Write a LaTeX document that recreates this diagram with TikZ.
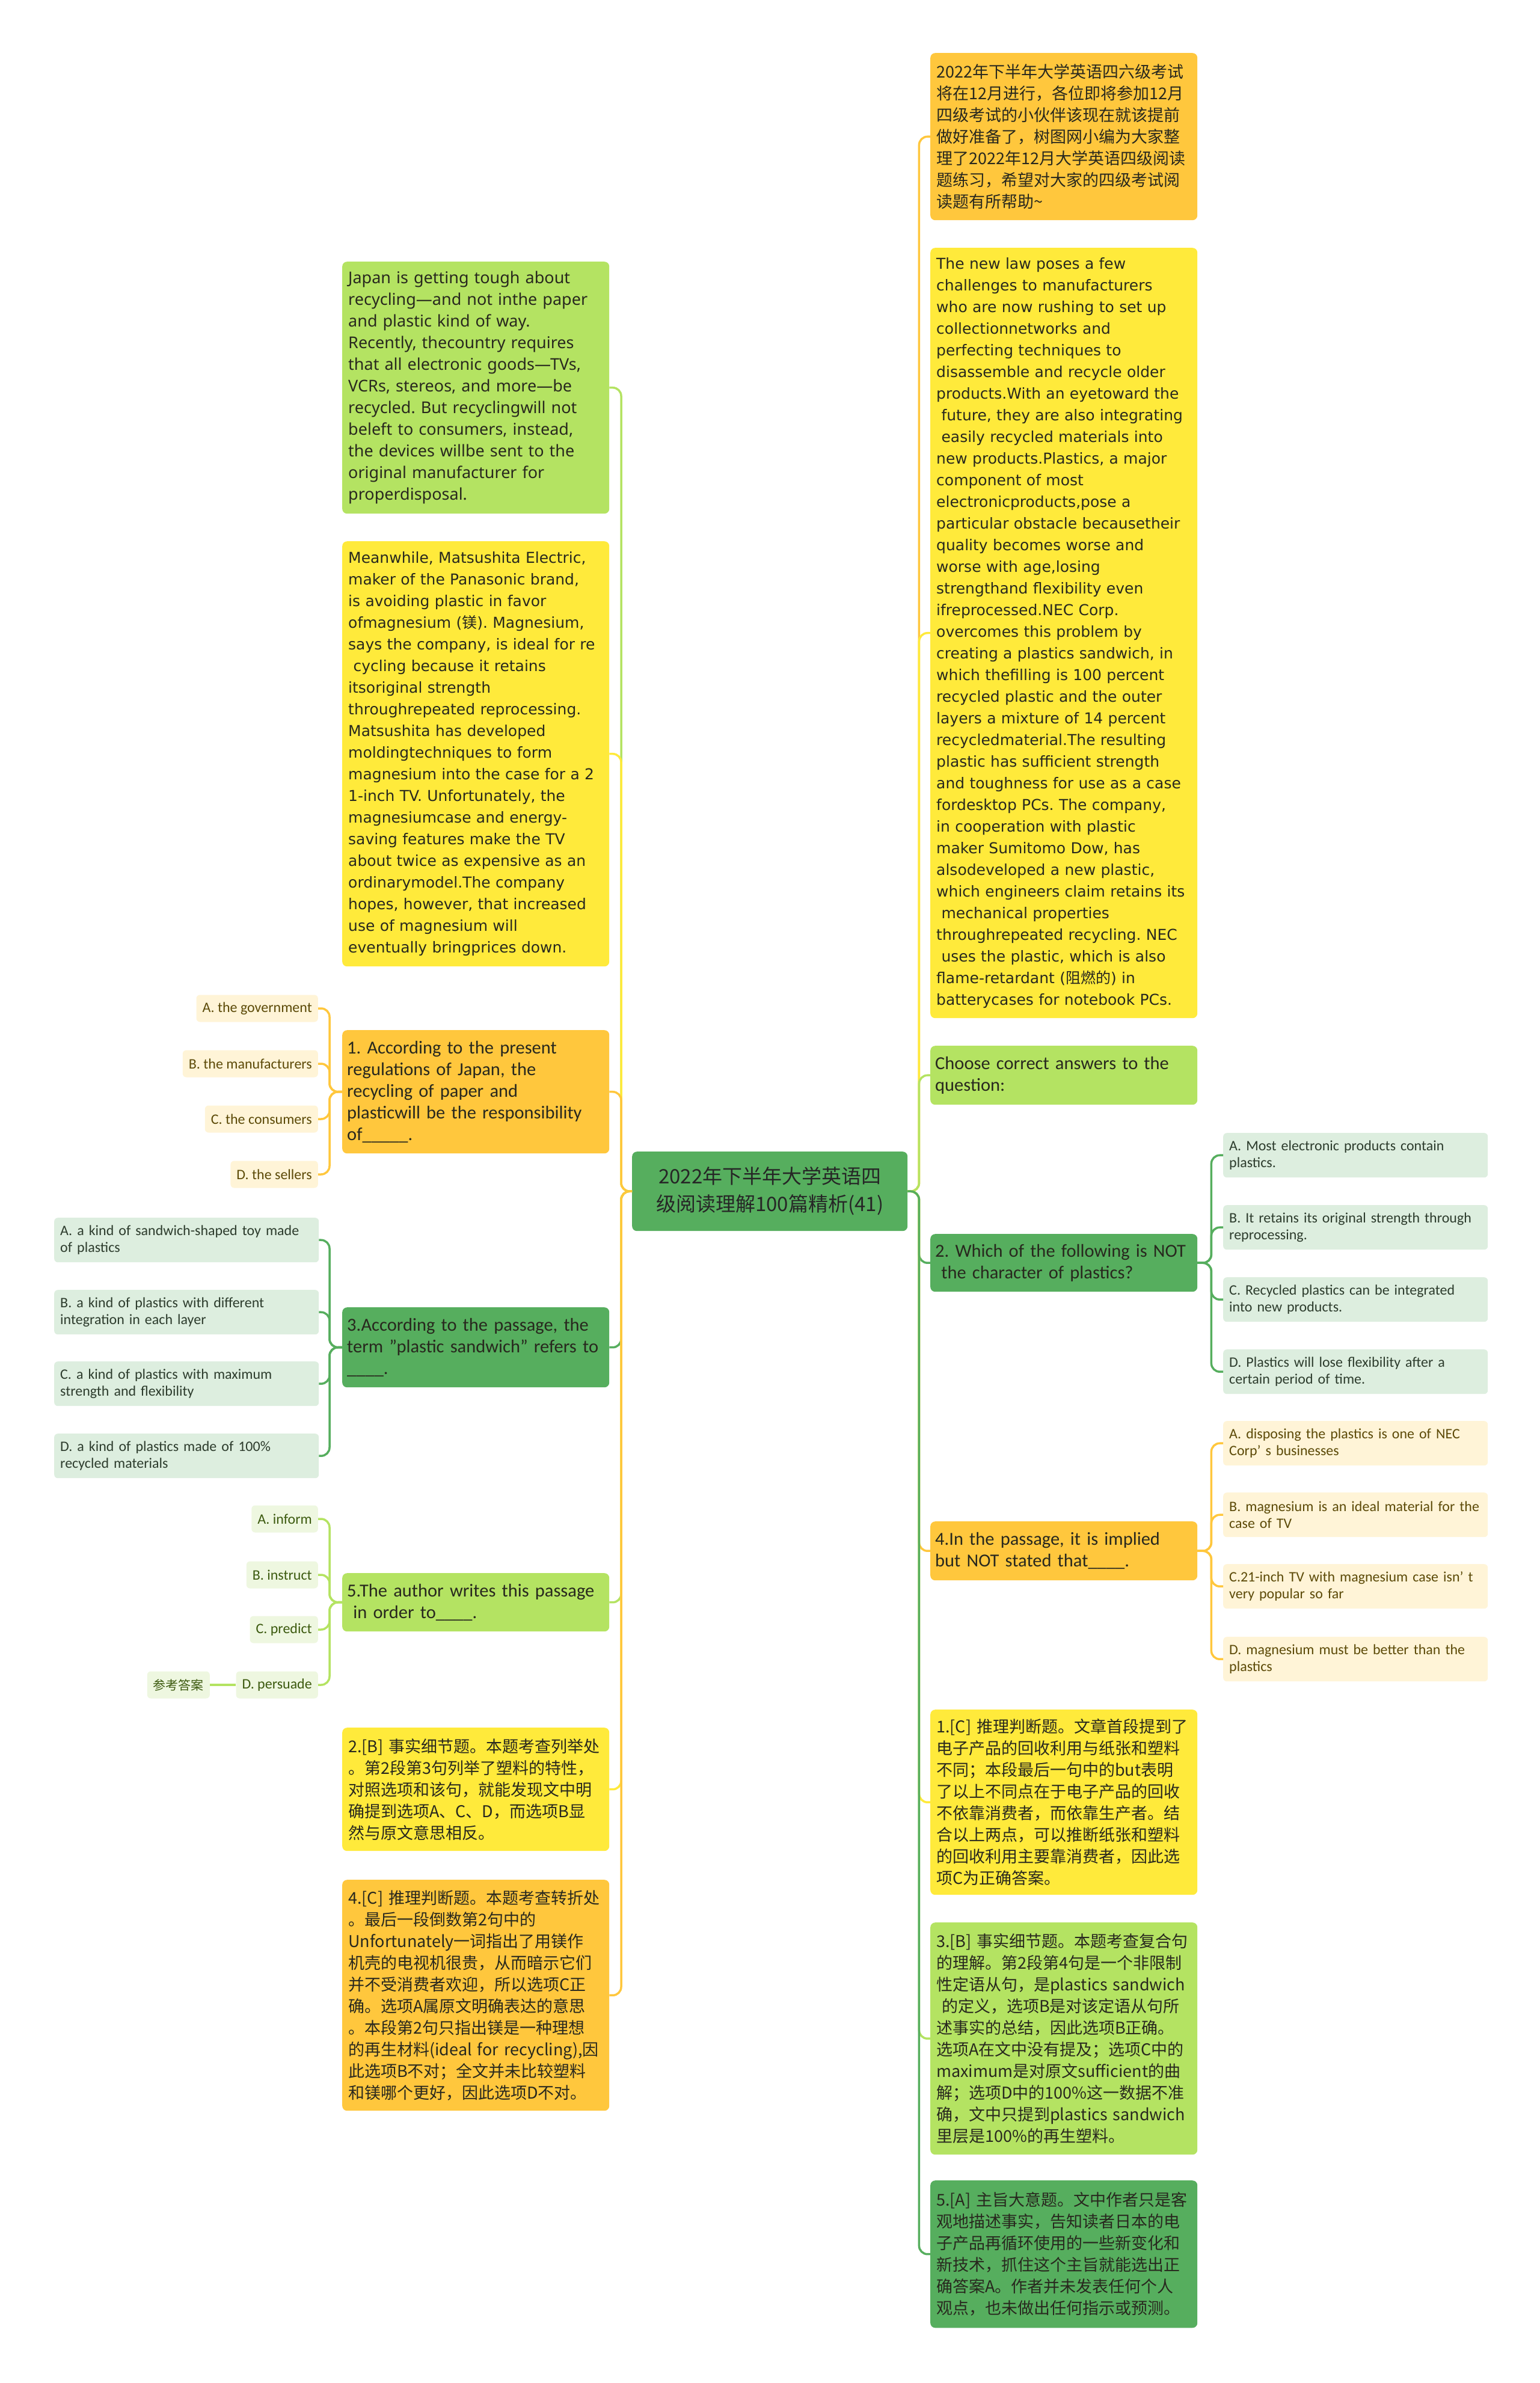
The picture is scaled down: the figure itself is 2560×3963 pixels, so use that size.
\documentclass[tikz,border=0pt]{standalone}
\usepackage{fontspec}
\setmainfont{Carlito}
\newfontfamily\cjkfont{Noto Sans CJK SC}
\newfontfamily\widefont{DejaVu Sans}
\newfontfamily\notofont{Noto Sans}

\definecolor{cOrange}{RGB}{255,199,61}
\definecolor{cYellow}{RGB}{255,234,59}
\definecolor{cLime}{RGB}{180,227,98}
\definecolor{cGreen}{RGB}{86,174,94}
\definecolor{oCream}{RGB}{255,244,215}
\definecolor{oMint}{RGB}{221,238,223}
\definecolor{oPale}{RGB}{238,247,224}
\definecolor{ink}{RGB}{40,40,30}
\definecolor{tOlive}{RGB}{92,74,8}
\definecolor{tDark}{RGB}{45,60,45}
\definecolor{tMoss}{RGB}{60,90,15}

\tikzset{
  mainbox/.style={rounded corners=8pt, anchor=north west, align=left, text=ink,
    inner xsep=10pt, inner ysep=6pt, text width=424pt},
  zhtext/.style={font=\cjkfont\fontsize{27}{36}\selectfont},
  widetext/.style={font=\widefont\fontsize{25}{36}\selectfont},
  entext/.style={font=\notofont\fontsize{27}{36}\selectfont},
  qtext/.style={font=\fontsize{30.5}{36}\selectfont, inner xsep=8pt, text width=428pt},
  optbox/.style={rounded corners=6pt, align=left, inner xsep=10pt, inner ysep=4pt,
    font=\fontsize{24}{28}\selectfont},
  optwide/.style={optbox, anchor=north west, text width=420pt, minimum height=74pt},
  optshort/.style={optbox, anchor=east, minimum height=45pt},
  link/.style={draw=#1, line width=3.5pt, rounded corners=14pt},
}

\begin{document}
\frenchspacing
\begin{tikzpicture}[x=1pt,y=-1pt]
\fill[white] (0,0) rectangle (2560,3963);
\useasboundingbox (0,0) rectangle (2560,3963);

\node[rounded corners=8pt, fill=cGreen, anchor=north west, minimum width=458pt,
  minimum height=132pt, align=center, text=black!85,
  font=\cjkfont\fontsize{33}{46}\selectfont] (ctr) at (1051,1915)
  {2022年下半年大学英语四\\级阅读理解100篇精析(41)};

% right branches
\node[mainbox, zhtext, fill=cOrange, minimum height=278pt] (intro) at (1547,88)
  {2022年下半年大学英语四六级考试\\将在12月进行，各位即将参加12月\\四级考试的小伙伴该现在就该提前\\做好准备了，树图网小编为大家整\\理了2022年12月大学英语四级阅读\\题练习，希望对大家的四级考试阅\\读题有所帮助\textasciitilde};
\node[mainbox, widetext, fill=cYellow, minimum height=1281pt] (passage) at (1547,412)
  {The new law poses a few\\
   challenges to manufacturers\\
   who are now rushing to set up\\
   collectionnetworks and\\
   perfecting techniques to\\
   disassemble and recycle older\\
   products.With an eyetoward the\\
   \ future, they are also integrating\\
   \ easily recycled materials into\\
   new products.Plastics, a major\\
   component of most\\
   electronicproducts,pose a\\
   particular obstacle becausetheir\\
   quality becomes worse and\\
   worse with age,losing\\
   strengthand flexibility even\\
   ifreprocessed.NEC Corp.\\
   overcomes this problem by\\
   creating a plastics sandwich, in\\
   which thefilling is 100 percent\\
   recycled plastic and the outer\\
   layers a mixture of 14 percent\\
   recycledmaterial.The resulting\\
   plastic has sufficient strength\\
   and toughness for use as a case\\
   fordesktop PCs. The company,\\
   in cooperation with plastic\\
   maker Sumitomo Dow, has\\
   alsodeveloped a new plastic,\\
   which engineers claim retains its\\
   \ mechanical properties\\
   throughrepeated recycling. NEC\\
   \ uses the plastic, which is also\\
   flame-retardant ({\cjkfont 阻燃的}) in\\
   batterycases for notebook PCs.};
\node[mainbox, qtext, fill=cLime, minimum height=98pt] (choose) at (1547,1739)
  {Choose correct answers to the\\question:};
\node[mainbox, qtext, fill=cGreen, minimum height=96pt] (q2) at (1547,2052)
  {2. Which of the following is NOT\\\ the character of plastics?};
\node[mainbox, qtext, fill=cOrange, minimum height=98pt] (q4) at (1547,2530)
  {4.In the passage, it is implied\\but NOT stated that\_\_\_\_.};
\node[mainbox, zhtext, fill=cYellow, minimum height=308pt] (key1) at (1547,2843)
  {1.[C]~推理判断题。文章首段提到了\\电子产品的回收利用与纸张和塑料\\不同；本段最后一句中的but表明\\了以上不同点在于电子产品的回收\\不依靠消费者，而依靠生产者。结\\合以上两点，可以推断纸张和塑料\\的回收利用主要靠消费者，因此选\\项C为正确答案。};
\node[mainbox, zhtext, fill=cLime, minimum height=386pt] (key3) at (1547,3197)
  {3.[B]~事实细节题。本题考查复合句\\的理解。第2段第4句是一个非限制\\性定语从句，是plastics~sandwich\\\ 的定义，选项B是对该定语从句所\\述事实的总结，因此选项B正确。\\选项A在文中没有提及；选项C中的\\maximum是对原文sufficient的曲\\解；选项D中的100\%这一数据不准\\确，文中只提到plastics~sandwich\\里层是100\%的再生塑料。};
\node[mainbox, zhtext, fill=cGreen, minimum height=245pt] (key5) at (1547,3626)
  {5.[A]~主旨大意题。文中作者只是客\\观地描述事实，告知读者日本的电\\子产品再循环使用的一些新变化和\\新技术，抓住这个主旨就能选出正\\确答案A。作者并未发表任何个人\\观点，也未做出任何指示或预测。};

% left branches
\node[mainbox, entext, fill=cLime, minimum height=419pt] (japan) at (569,435)
  {Japan is getting tough about\\recycling—and not inthe paper\\and plastic kind of way.\\Recently, thecountry requires\\that all electronic goods—TVs,\\VCRs, stereos, and more—be\\recycled. But recyclingwill not\\beleft to consumers, instead,\\the devices willbe sent to the\\original manufacturer for\\properdisposal.};
\node[mainbox, widetext, fill=cYellow, minimum height=707pt] (matsu) at (569,900)
  {Meanwhile, Matsushita Electric,\\
   maker of the Panasonic brand,\\
   is avoiding plastic in favor\\
   ofmagnesium ({\cjkfont 镁}). Magnesium,\\
   says the company, is ideal for re\\
   \ cycling because it retains\\
   itsoriginal strength\\
   throughrepeated reprocessing.\\
   Matsushita has developed\\
   moldingtechniques to form\\
   magnesium into the case for a 2\\
   1-inch TV. Unfortunately, the\\
   magnesiumcase and energy-\\
   saving features make the TV\\
   about twice as expensive as an\\
   ordinarymodel.The company\\
   hopes, however, that increased\\
   use of magnesium will\\
   eventually bringprices down.};
\node[mainbox, qtext, fill=cOrange, minimum height=205pt] (q1) at (569,1713)
  {1. According to the present\\regulations of Japan, the\\recycling of paper and\\plasticwill be the responsibility\\of\_\_\_\_\_.};
\node[mainbox, qtext, fill=cGreen, minimum height=133pt] (q3) at (569,2174)
  {3.According to the passage, the\\term "plastic sandwich" refers to\\\_\_\_\_.};
\node[mainbox, qtext, fill=cLime, minimum height=97pt] (q5) at (569,2616)
  {5.The author writes this passage\\\ in order to\_\_\_\_.};
\node[mainbox, zhtext, fill=cYellow, minimum height=205pt] (key2) at (569,2873)
  {2.[B]~事实细节题。本题考查列举处\\。第2段第3句列举了塑料的特性，\\对照选项和该句，就能发现文中明\\确提到选项A、C、D，而选项B显\\然与原文意思相反。};
\node[mainbox, zhtext, fill=cOrange, minimum height=384pt] (key4) at (569,3126)
  {4.[C]~推理判断题。本题考查转折处\\。最后一段倒数第2句中的\\Unfortunately一词指出了用镁作\\机壳的电视机很贵，从而暗示它们\\并不受消费者欢迎，所以选项C正\\确。选项A属原文明确表达的意思\\。本段第2句只指出镁是一种理想\\的再生材料(ideal~for~recycling),因\\此选项B不对；全文并未比较塑料\\和镁哪个更好，因此选项D不对。};

% options
\node[optshort, fill=oCream, text=tOlive] (q1a) at (529,1677) {A. the government};
\node[optshort, fill=oCream, text=tOlive] (q1b) at (529,1769) {B. the manufacturers};
\node[optshort, fill=oCream, text=tOlive] (q1c) at (529,1861) {C. the consumers};
\node[optshort, fill=oCream, text=tOlive] (q1d) at (529,1953) {D. the sellers};

\node[optwide, fill=oMint, text=tDark] (q3a) at (90,2025) {A. a kind of sandwich-shaped toy made\\of plastics};
\node[optwide, fill=oMint, text=tDark] (q3b) at (90,2145) {B. a kind of plastics with different\\integration in each layer};
\node[optwide, fill=oMint, text=tDark] (q3c) at (90,2264) {C. a kind of plastics with maximum\\strength and flexibility};
\node[optwide, fill=oMint, text=tDark] (q3d) at (90,2384) {D. a kind of plastics made of 100\%\\recycled materials};

\node[optshort, fill=oPale, text=tMoss] (q5a) at (529,2526) {A. inform};
\node[optshort, fill=oPale, text=tMoss] (q5b) at (529,2619) {B. instruct};
\node[optshort, fill=oPale, text=tMoss] (q5c) at (529,2710) {C. predict};
\node[optshort, fill=oPale, text=tMoss] (q5d) at (529,2802) {D. persuade};
\node[optshort, fill=oPale, text=tMoss, font=\cjkfont\fontsize{21}{28}\selectfont] (ref) at (349,2802) {参考答案};

\node[optwide, fill=oMint, text=tDark] (q2a) at (2034,1884) {A. Most electronic products contain\\plastics.};
\node[optwide, fill=oMint, text=tDark] (q2b) at (2034,2004) {B. It retains its original strength through\\reprocessing.};
\node[optwide, fill=oMint, text=tDark] (q2c) at (2034,2124) {C. Recycled plastics can be integrated\\into new products.};
\node[optwide, fill=oMint, text=tDark] (q2d) at (2034,2244) {D. Plastics will lose flexibility after a\\certain period of time.};

\node[optwide, fill=oCream, text=tOlive] (q4a) at (2034,2363) {A. disposing the plastics is one of NEC\\Corp’ s businesses};
\node[optwide, fill=oCream, text=tOlive] (q4b) at (2034,2482) {B. magnesium is an ideal material for~the\\case of TV};
\node[optwide, fill=oCream, text=tOlive] (q4c) at (2034,2601) {C.21-inch TV with magnesium case isn’~t\\very popular so far};
\node[optwide, fill=oCream, text=tOlive] (q4d) at (2034,2722) {D. magnesium must be better than the\\plastics};

% connectors
\draw[link=cOrange] (ctr.east) -- ++(19,0) |- (intro.west);
\draw[link=cYellow] (ctr.east) -- ++(19,0) |- (passage.west);
\draw[link=cLime] (ctr.east) -- ++(19,0) |- (choose.west);
\draw[link=cGreen] (ctr.east) -- ++(19,0) |- (q2.west);
\draw[link=cOrange] (ctr.east) -- ++(19,0) |- (q4.west);
\draw[link=cYellow] (ctr.east) -- ++(19,0) |- (key1.west);
\draw[link=cLime] (ctr.east) -- ++(19,0) |- (key3.west);
\draw[link=cGreen] (ctr.east) -- ++(19,0) |- (key5.west);

\draw[link=cLime] (ctr.west) -- ++(-18,0) |- (japan.east);
\draw[link=cYellow] (ctr.west) -- ++(-18,0) |- (matsu.east);
\draw[link=cOrange] (ctr.west) -- ++(-18,0) |- (q1.east);
\draw[link=cGreen] (ctr.west) -- ++(-18,0) |- (q3.east);
\draw[link=cLime] (ctr.west) -- ++(-18,0) |- (q5.east);
\draw[link=cYellow] (ctr.west) -- ++(-18,0) |- (key2.east);
\draw[link=cOrange] (ctr.west) -- ++(-18,0) |- (key4.east);

\draw[link=cOrange] (q1.west) -- ++(-21,0) |- (q1a.east);
\draw[link=cOrange] (q1.west) -- ++(-21,0) |- (q1b.east);
\draw[link=cOrange] (q1.west) -- ++(-21,0) |- (q1c.east);
\draw[link=cOrange] (q1.west) -- ++(-21,0) |- (q1d.east);

\draw[link=cGreen] (q3.west) -- ++(-21,0) |- (q3a.east);
\draw[link=cGreen] (q3.west) -- ++(-21,0) |- (q3b.east);
\draw[link=cGreen] (q3.west) -- ++(-21,0) |- (q3c.east);
\draw[link=cGreen] (q3.west) -- ++(-21,0) |- (q3d.east);

\draw[link=cLime] (q5.west) -- ++(-21,0) |- (q5a.east);
\draw[link=cLime] (q5.west) -- ++(-21,0) |- (q5b.east);
\draw[link=cLime] (q5.west) -- ++(-21,0) |- (q5c.east);
\draw[link=cLime] (q5.west) -- ++(-21,0) |- (q5d.east);
\draw[link=cLime] (q5d.west) -- (ref.east);

\draw[link=cGreen] (q2.east) -- ++(23,0) |- (q2a.west);
\draw[link=cGreen] (q2.east) -- ++(23,0) |- (q2b.west);
\draw[link=cGreen] (q2.east) -- ++(23,0) |- (q2c.west);
\draw[link=cGreen] (q2.east) -- ++(23,0) |- (q2d.west);

\draw[link=cOrange] (q4.east) -- ++(23,0) |- (q4a.west);
\draw[link=cOrange] (q4.east) -- ++(23,0) |- (q4b.west);
\draw[link=cOrange] (q4.east) -- ++(23,0) |- (q4c.west);
\draw[link=cOrange] (q4.east) -- ++(23,0) |- (q4d.west);
\end{tikzpicture}
\end{document}
